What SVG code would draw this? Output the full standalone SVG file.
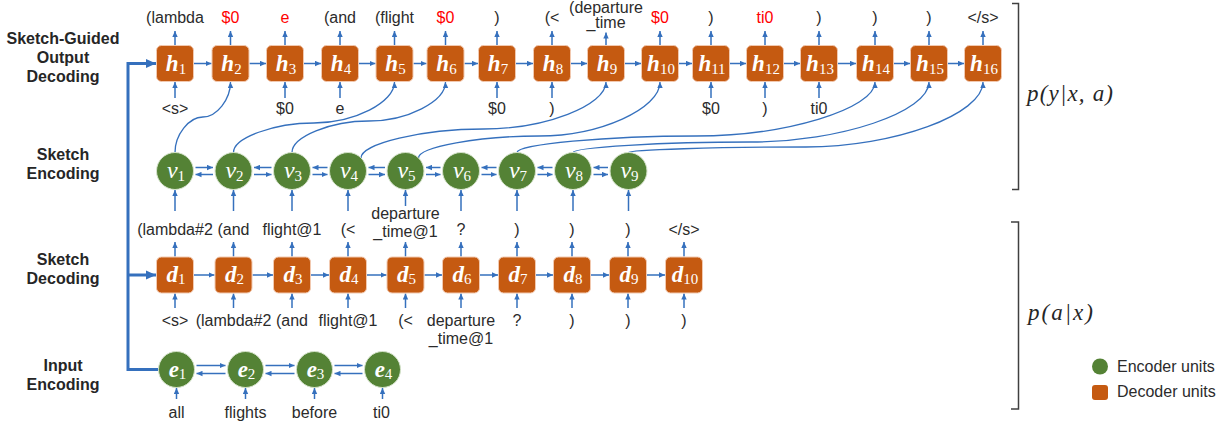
<svg xmlns="http://www.w3.org/2000/svg" width="1231" height="430" viewBox="0 0 1231 430">
<style>
.t{font-family:"Liberation Sans",Arial,sans-serif;font-size:16px;fill:#2b2b2b;text-anchor:middle}
.r{fill:#ff0000}
.side{font-family:"Liberation Sans",Arial,sans-serif;font-size:16px;font-weight:bold;fill:#262626;text-anchor:middle}
.lg{font-family:"Liberation Sans",Arial,sans-serif;font-size:16px;fill:#2b2b2b}
.dec{fill:#C55A11;stroke:#F2C9B0;stroke-width:1}
.enc{fill:#548235;stroke:#D5E3CB;stroke-width:1}
.m{font-family:"Liberation Serif","Times New Roman",serif;font-size:23px;font-style:italic;font-weight:bold;fill:#ffffff;text-anchor:middle}
.mv{font-weight:normal;font-size:24px}
.sub{font-size:15px;font-style:normal;font-weight:normal}
.a{stroke:#3570BD;stroke-width:1.5;fill:none;marker-end:url(#ah)}
.c{stroke:#3570BD;stroke-width:1.3;fill:none;marker-end:url(#ah)}
.thick{stroke:#3570BD;stroke-width:3;fill:none}
.br{stroke:#404040;stroke-width:1.5;fill:none}
.p{font-family:"Liberation Serif","Times New Roman",serif;font-size:23px;font-style:italic;fill:#262626}
</style>
<defs>
<marker id="ah" viewBox="0 0 10 10" refX="10" refY="5" markerWidth="6" markerHeight="6" markerUnits="userSpaceOnUse" orient="auto"><path d="M0,0.5 L10,5 L0,9.5 z" fill="#3570BD"/></marker>
<marker id="ahb" viewBox="0 0 10 10" refX="10" refY="5" markerWidth="10" markerHeight="10" markerUnits="userSpaceOnUse" orient="auto-start-reverse"><path d="M0,0.5 L10,5 L0,9.5 z" fill="#3570BD"/></marker>
</defs>

<g id="side-labels">
<text class="side" x="63" y="44">Sketch-Guided</text>
<text class="side" x="63" y="63">Output</text>
<text class="side" x="63" y="82">Decoding</text>
<text class="side" x="63" y="160">Sketch</text>
<text class="side" x="63" y="179">Encoding</text>
<text class="side" x="63" y="265">Sketch</text>
<text class="side" x="63" y="284">Decoding</text>
<text class="side" x="63" y="371">Input</text>
<text class="side" x="63" y="390">Encoding</text>
</g>

<g id="connectors">
<path class="thick" d="M156,63.5 H128 V369.5 H158.5" style="marker-start:url(#ahb)"/>
<path class="thick" d="M128,275 H156" style="marker-end:url(#ahb)"/>

<path class="a" d="M194,63.5 H211.5"/>
<path class="a" d="M249.5,63.5 H266"/>
<path class="a" d="M304,63.5 H321"/>
<path class="a" d="M359,63.5 H375.5"/>
<path class="a" d="M413.5,63.5 H426.5"/>
<path class="a" d="M464.5,63.5 H478"/>
<path class="a" d="M516,63.5 H533"/>
<path class="a" d="M571,63.5 H587"/>
<path class="a" d="M625,63.5 H641"/>
<path class="a" d="M679,63.5 H692"/>
<path class="a" d="M730,63.5 H746"/>
<path class="a" d="M784,63.5 H800"/>
<path class="a" d="M838,63.5 H856"/>
<path class="a" d="M894,63.5 H910"/>
<path class="a" d="M948,63.5 H964"/>

<path class="a" d="M175,45 V31"/>
<path class="a" d="M230.5,45 V31"/>
<path class="a" d="M285,45 V31"/>
<path class="a" d="M340,45 V31"/>
<path class="a" d="M394.5,45 V31"/>
<path class="a" d="M445.5,45 V31"/>
<path class="a" d="M497,45 V31"/>
<path class="a" d="M552,45 V31"/>
<path class="a" d="M606,45 V32.5"/>
<path class="a" d="M660,45 V31"/>
<path class="a" d="M711,45 V31"/>
<path class="a" d="M765,45 V31"/>
<path class="a" d="M819,45 V31"/>
<path class="a" d="M875,45 V31"/>
<path class="a" d="M929,45 V31"/>
<path class="a" d="M983,45 V31"/>

<path class="a" d="M175,98 V82"/>
<path class="a" d="M285,98 V82"/>
<path class="a" d="M340,98 V82"/>
<path class="a" d="M497,98 V82"/>
<path class="a" d="M552,98 V82"/>
<path class="a" d="M711,98 V82"/>
<path class="a" d="M765,98 V82"/>
<path class="a" d="M819,98 V82"/>

<path class="c" d="M175,152.5 C175,135 188.9,117 202.8,117 C216.6,117 230.5,99.5 230.5,82"/>
<path class="c" d="M233.5,152.5 C233.5,137.8 273.8,123 314,123 C354.3,123 394.5,102.5 394.5,82"/>
<path class="c" d="M292,152.5 C292,136.8 330.4,121 368.8,121 C407.1,121 445.5,101.5 445.5,82"/>
<path class="c" d="M361,158 C361,143.5 422.3,129 483.5,129 C544.8,129 606,105.5 606,82"/>
<path class="c" d="M418.5,158 C418.5,147 478.9,136 539.3,136 C599.6,136 660,109 660,82"/>
<path class="c" d="M517,152.5 C517,144.3 606.5,136 696,136 C785.5,136 875,109 875,82"/>
<path class="c" d="M573,152.5 C573,147.3 662,142 751,142 C840,142 929,112 929,82"/>
<path class="c" d="M628.5,152.5 C628.5,149.8 717.1,147 805.8,147 C894.4,147 983,114.5 983,82"/>

<path class="a" d="M195.5,167.5 H213"/>
<path class="a" d="M213,174.5 H195.5"/>
<path class="a" d="M271.5,167.5 H254"/>
<path class="a" d="M254,174.5 H271.5"/>
<path class="a" d="M327.5,167.5 H312.5"/>
<path class="a" d="M312.5,174.5 H327.5"/>
<path class="a" d="M385,167.5 H368.5"/>
<path class="a" d="M368.5,174.5 H385"/>
<path class="a" d="M440.5,167.5 H426"/>
<path class="a" d="M426,174.5 H440.5"/>
<path class="a" d="M496.5,167.5 H481.5"/>
<path class="a" d="M481.5,174.5 H496.5"/>
<path class="a" d="M552.5,167.5 H537.5"/>
<path class="a" d="M537.5,174.5 H552.5"/>
<path class="a" d="M608,167.5 H593.5"/>
<path class="a" d="M593.5,174.5 H608"/>

<path class="a" d="M175,211 V190"/>
<path class="a" d="M233.5,211 V190"/>
<path class="a" d="M292,211 V190"/>
<path class="a" d="M348,211 V190"/>
<path class="a" d="M405.5,206 V190"/>
<path class="a" d="M461,211 V190"/>
<path class="a" d="M517,211 V190"/>
<path class="a" d="M573,211 V190"/>
<path class="a" d="M628.5,211 V190"/>

<path class="a" d="M194,275 H214.5"/>
<path class="a" d="M252.5,275 H273"/>
<path class="a" d="M311,275 H329"/>
<path class="a" d="M367,275 H386.5"/>
<path class="a" d="M424.5,275 H442"/>
<path class="a" d="M480,275 H498"/>
<path class="a" d="M536,275 H553"/>
<path class="a" d="M591,275 H609"/>
<path class="a" d="M647,275 H665"/>

<path class="a" d="M175,256.5 V242"/>
<path class="a" d="M233.5,256.5 V242"/>
<path class="a" d="M292,256.5 V242"/>
<path class="a" d="M348,256.5 V242"/>
<path class="a" d="M405.5,256.5 V242"/>
<path class="a" d="M461,256.5 V242"/>
<path class="a" d="M517,256.5 V242"/>
<path class="a" d="M572,256.5 V242"/>
<path class="a" d="M628,256.5 V242"/>
<path class="a" d="M684,256.5 V242"/>

<path class="a" d="M175,308 V293.5"/>
<path class="a" d="M233.5,308 V293.5"/>
<path class="a" d="M292,308 V293.5"/>
<path class="a" d="M348,308 V293.5"/>
<path class="a" d="M405.5,308 V293.5"/>
<path class="a" d="M461,308 V293.5"/>
<path class="a" d="M517,308 V293.5"/>
<path class="a" d="M572,308 V293.5"/>
<path class="a" d="M628,308 V293.5"/>
<path class="a" d="M684,308 V293.5"/>

<path class="a" d="M196.5,365.5 H225.5"/>
<path class="a" d="M225.5,373.5 H196.5"/>
<path class="a" d="M265.5,365.5 H294.5"/>
<path class="a" d="M294.5,373.5 H265.5"/>
<path class="a" d="M334.5,365.5 H362.5"/>
<path class="a" d="M362.5,373.5 H334.5"/>

<path class="a" d="M176.5,399 V388"/>
<path class="a" d="M245.5,399 V388"/>
<path class="a" d="M314.5,399 V388"/>
<path class="a" d="M382.5,399 V388"/>
</g>

<g id="h-nodes">
<g id="h1"><rect class="dec" x="156.5" y="45.5" width="37" height="36" rx="5"/><text class="m" x="176" y="71">h<tspan class="sub" dy="3">1</tspan></text></g>
<g id="h2"><rect class="dec" x="212" y="45.5" width="37" height="36" rx="5"/><text class="m" x="231.5" y="71">h<tspan class="sub" dy="3">2</tspan></text></g>
<g id="h3"><rect class="dec" x="266.5" y="45.5" width="37" height="36" rx="5"/><text class="m" x="286" y="71">h<tspan class="sub" dy="3">3</tspan></text></g>
<g id="h4"><rect class="dec" x="321.5" y="45.5" width="37" height="36" rx="5"/><text class="m" x="341" y="71">h<tspan class="sub" dy="3">4</tspan></text></g>
<g id="h5"><rect class="dec" x="376" y="45.5" width="37" height="36" rx="5"/><text class="m" x="395.5" y="71">h<tspan class="sub" dy="3">5</tspan></text></g>
<g id="h6"><rect class="dec" x="427" y="45.5" width="37" height="36" rx="5"/><text class="m" x="446.5" y="71">h<tspan class="sub" dy="3">6</tspan></text></g>
<g id="h7"><rect class="dec" x="478.5" y="45.5" width="37" height="36" rx="5"/><text class="m" x="498" y="71">h<tspan class="sub" dy="3">7</tspan></text></g>
<g id="h8"><rect class="dec" x="533.5" y="45.5" width="37" height="36" rx="5"/><text class="m" x="553" y="71">h<tspan class="sub" dy="3">8</tspan></text></g>
<g id="h9"><rect class="dec" x="587.5" y="45.5" width="37" height="36" rx="5"/><text class="m" x="607" y="71">h<tspan class="sub" dy="3">9</tspan></text></g>
<g id="h10"><rect class="dec" x="641.5" y="45.5" width="37" height="36" rx="5"/><text class="m" x="661" y="71">h<tspan class="sub" dy="3">10</tspan></text></g>
<g id="h11"><rect class="dec" x="692.5" y="45.5" width="37" height="36" rx="5"/><text class="m" x="712" y="71">h<tspan class="sub" dy="3">11</tspan></text></g>
<g id="h12"><rect class="dec" x="746.5" y="45.5" width="37" height="36" rx="5"/><text class="m" x="766" y="71">h<tspan class="sub" dy="3">12</tspan></text></g>
<g id="h13"><rect class="dec" x="800.5" y="45.5" width="37" height="36" rx="5"/><text class="m" x="820" y="71">h<tspan class="sub" dy="3">13</tspan></text></g>
<g id="h14"><rect class="dec" x="856.5" y="45.5" width="37" height="36" rx="5"/><text class="m" x="876" y="71">h<tspan class="sub" dy="3">14</tspan></text></g>
<g id="h15"><rect class="dec" x="910.5" y="45.5" width="37" height="36" rx="5"/><text class="m" x="930" y="71">h<tspan class="sub" dy="3">15</tspan></text></g>
<g id="h16"><rect class="dec" x="964.5" y="45.5" width="37" height="36" rx="5"/><text class="m" x="984" y="71">h<tspan class="sub" dy="3">16</tspan></text></g>
</g>

<g id="v-nodes">
<g id="v1"><circle class="enc" cx="175" cy="171" r="18.5"/><text class="m mv" x="176" y="178">v<tspan class="sub" dy="3">1</tspan></text></g>
<g id="v2"><circle class="enc" cx="233.5" cy="171" r="18.5"/><text class="m mv" x="234.5" y="178">v<tspan class="sub" dy="3">2</tspan></text></g>
<g id="v3"><circle class="enc" cx="292" cy="171" r="18.5"/><text class="m mv" x="293" y="178">v<tspan class="sub" dy="3">3</tspan></text></g>
<g id="v4"><circle class="enc" cx="348" cy="171" r="18.5"/><text class="m mv" x="349" y="178">v<tspan class="sub" dy="3">4</tspan></text></g>
<g id="v5"><circle class="enc" cx="405.5" cy="171" r="18.5"/><text class="m mv" x="406.5" y="178">v<tspan class="sub" dy="3">5</tspan></text></g>
<g id="v6"><circle class="enc" cx="461" cy="171" r="18.5"/><text class="m mv" x="462" y="178">v<tspan class="sub" dy="3">6</tspan></text></g>
<g id="v7"><circle class="enc" cx="517" cy="171" r="18.5"/><text class="m mv" x="518" y="178">v<tspan class="sub" dy="3">7</tspan></text></g>
<g id="v8"><circle class="enc" cx="573" cy="171" r="18.5"/><text class="m mv" x="574" y="178">v<tspan class="sub" dy="3">8</tspan></text></g>
<g id="v9"><circle class="enc" cx="628.5" cy="171" r="18.5"/><text class="m mv" x="629.5" y="178">v<tspan class="sub" dy="3">9</tspan></text></g>
</g>

<g id="d-nodes">
<g id="d1"><rect class="dec" x="156.5" y="257" width="37" height="36" rx="5"/><text class="m" x="176" y="282">d<tspan class="sub" dy="2">1</tspan></text></g>
<g id="d2"><rect class="dec" x="215" y="257" width="37" height="36" rx="5"/><text class="m" x="234.5" y="282">d<tspan class="sub" dy="2">2</tspan></text></g>
<g id="d3"><rect class="dec" x="273.5" y="257" width="37" height="36" rx="5"/><text class="m" x="293" y="282">d<tspan class="sub" dy="2">3</tspan></text></g>
<g id="d4"><rect class="dec" x="329.5" y="257" width="37" height="36" rx="5"/><text class="m" x="349" y="282">d<tspan class="sub" dy="2">4</tspan></text></g>
<g id="d5"><rect class="dec" x="387" y="257" width="37" height="36" rx="5"/><text class="m" x="406.5" y="282">d<tspan class="sub" dy="2">5</tspan></text></g>
<g id="d6"><rect class="dec" x="442.5" y="257" width="37" height="36" rx="5"/><text class="m" x="462" y="282">d<tspan class="sub" dy="2">6</tspan></text></g>
<g id="d7"><rect class="dec" x="498.5" y="257" width="37" height="36" rx="5"/><text class="m" x="518" y="282">d<tspan class="sub" dy="2">7</tspan></text></g>
<g id="d8"><rect class="dec" x="553.5" y="257" width="37" height="36" rx="5"/><text class="m" x="573" y="282">d<tspan class="sub" dy="2">8</tspan></text></g>
<g id="d9"><rect class="dec" x="609.5" y="257" width="37" height="36" rx="5"/><text class="m" x="629" y="282">d<tspan class="sub" dy="2">9</tspan></text></g>
<g id="d10"><rect class="dec" x="665.5" y="257" width="37" height="36" rx="5"/><text class="m" x="685" y="282">d<tspan class="sub" dy="2">10</tspan></text></g>
</g>

<g id="e-nodes">
<g id="e1"><circle class="enc" cx="176.5" cy="369.5" r="18"/><text class="m" x="177.5" y="376.5">e<tspan class="sub" dy="2">1</tspan></text></g>
<g id="e2"><circle class="enc" cx="245.5" cy="369.5" r="18"/><text class="m" x="246.5" y="376.5">e<tspan class="sub" dy="2">2</tspan></text></g>
<g id="e3"><circle class="enc" cx="314.5" cy="369.5" r="18"/><text class="m" x="315.5" y="376.5">e<tspan class="sub" dy="2">3</tspan></text></g>
<g id="e4"><circle class="enc" cx="382.5" cy="369.5" r="18"/><text class="m" x="383.5" y="376.5">e<tspan class="sub" dy="2">4</tspan></text></g>
</g>

<g id="h-labels">
<text class="t" x="175" y="23">(lambda</text>
<text class="t r" x="230.5" y="23">$0</text>
<text class="t r" x="285" y="23">e</text>
<text class="t" x="340" y="23">(and</text>
<text class="t" x="394.5" y="23">(flight</text>
<text class="t r" x="445.5" y="23">$0</text>
<text class="t" x="497" y="23">)</text>
<text class="t" x="552" y="23">(&lt;</text>
<text class="t" x="606" y="13">(departure</text>
<text class="t" x="606" y="28">_time</text>
<text class="t r" x="660" y="23">$0</text>
<text class="t" x="711" y="23">)</text>
<text class="t r" x="765" y="23">ti0</text>
<text class="t" x="819" y="23">)</text>
<text class="t" x="875" y="23">)</text>
<text class="t" x="929" y="23">)</text>
<text class="t" x="983" y="23">&lt;/s&gt;</text>
<text class="t" x="175" y="114">&lt;s&gt;</text>
<text class="t" x="285" y="114">$0</text>
<text class="t" x="340" y="114">e</text>
<text class="t" x="497" y="114">$0</text>
<text class="t" x="552" y="114">)</text>
<text class="t" x="711" y="114">$0</text>
<text class="t" x="765" y="114">)</text>
<text class="t" x="819" y="114">ti0</text>
</g>

<g id="d-labels">
<text class="t" x="175" y="235">(lambda#2</text>
<text class="t" x="233.5" y="235">(and</text>
<text class="t" x="292" y="235">flight@1</text>
<text class="t" x="348" y="235">(&lt;</text>
<text class="t" x="405.5" y="219">departure</text>
<text class="t" x="405.5" y="237">_time@1</text>
<text class="t" x="461" y="235">?</text>
<text class="t" x="517" y="235">)</text>
<text class="t" x="572" y="235">)</text>
<text class="t" x="628" y="235">)</text>
<text class="t" x="684" y="235">&lt;/s&gt;</text>
<text class="t" x="175" y="326">&lt;s&gt;</text>
<text class="t" x="233.5" y="326">(lambda#2</text>
<text class="t" x="292" y="326">(and</text>
<text class="t" x="348" y="326">flight@1</text>
<text class="t" x="405.5" y="326">(&lt;</text>
<text class="t" x="461" y="326">departure</text>
<text class="t" x="461" y="344">_time@1</text>
<text class="t" x="517" y="326">?</text>
<text class="t" x="572" y="326">)</text>
<text class="t" x="628" y="326">)</text>
<text class="t" x="684" y="326">)</text>
</g>

<g id="e-labels">
<text class="t" x="176.5" y="418">all</text>
<text class="t" x="245.5" y="418">flights</text>
<text class="t" x="314.5" y="418">before</text>
<text class="t" x="381.5" y="418">ti0</text>
</g>

<g id="brackets">
<path class="br" d="M1012,3.5 H1018.5 V189.5 H1012"/>
<text class="p" x="1027" y="101" textLength="86">p(y|x, a)</text>
<path class="br" d="M1011,222 H1018.5 V409 H1011"/>
<text class="p" x="1028" y="320" textLength="65">p(a|x)</text>
</g>

<g id="legend">
<circle cx="1100" cy="366.5" r="8" fill="#548235"/>
<text class="lg" x="1117" y="372">Encoder units</text>
<rect x="1092" y="385" width="16" height="15" rx="3" fill="#C55A11"/>
<text class="lg" x="1117" y="397">Decoder units</text>
</g>
</svg>
